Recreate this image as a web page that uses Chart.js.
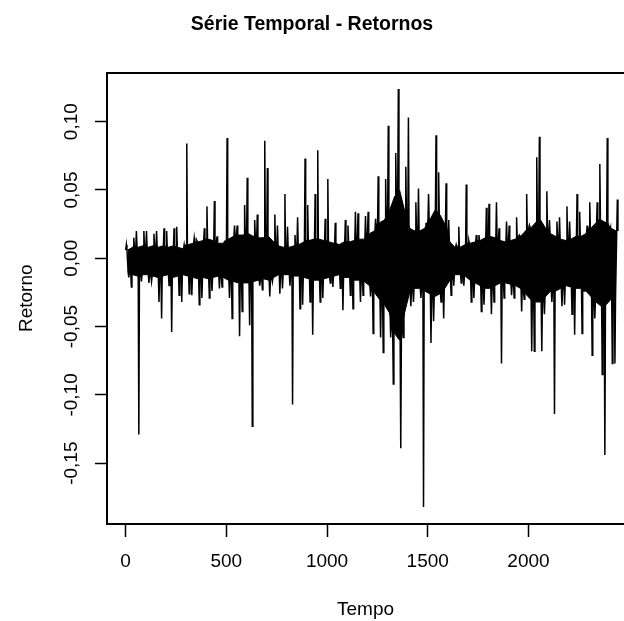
<!DOCTYPE html>
<html lang="pt">
<head>
<meta charset="utf-8">
<title>Série Temporal - Retornos</title>
<script src="https://cdn.jsdelivr.net/npm/chart.js@4.4.1/dist/chart.umd.min.js"></script>
<style>
    html, body { margin: 0; padding: 0; background: #fff; overflow: hidden; }
    canvas { display: block; }
</style>
</head>
<body>
<canvas id="retornosChart" width="624" height="621"></canvas>
<script>
// Série temporal de retornos
// Read off the plot in blocks of 25 observations:
// highest / lowest return of each block, and the dense (solid) band around zero
const blockSize = 25;

const retornoMax = [
    0.010, 0.015, 0.020, 0.020, 0.020, 0.018, 0.020, 0.022, 0.020, 0.022,
    0.023, 0.010, 0.084, 0.015, 0.013, 0.022, 0.038, 0.042, 0.016, 0.012,
    0.088, 0.024, 0.024, 0.039, 0.059, 0.028, 0.032, 0.086, 0.066, 0.032,
    0.024, 0.047, 0.023, 0.017, 0.030, 0.073, 0.039, 0.047, 0.079, 0.029,
    0.058, 0.026, 0.010, 0.028, 0.024, 0.034, 0.033, 0.031, 0.034, 0.029,
    0.060, 0.058, 0.097, 0.077, 0.124, 0.067, 0.103, 0.041, 0.051, 0.026,
    0.047, 0.090, 0.063, 0.055, 0.028, 0.010, 0.023, 0.054, 0.013, 0.017,
    0.017, 0.037, 0.040, 0.041, 0.022, 0.027, 0.024, 0.030, 0.017, 0.047,
    0.024, 0.074, 0.089, 0.049, 0.028, 0.027, 0.030, 0.038, 0.027, 0.047,
    0.034, 0.024, 0.041, 0.041, 0.069, 0.088, 0.020, 0.043
];

const retornoMin = [
    -0.014, -0.021, -0.129, -0.017, -0.018, -0.017, -0.032, -0.044, -0.020, -0.054,
    -0.027, -0.032, -0.026, -0.027, -0.034, -0.029, -0.029, -0.024, -0.022, -0.021,
    -0.029, -0.044, -0.057, -0.039, -0.049, -0.123, -0.020, -0.023, -0.028, -0.017,
    -0.026, -0.022, -0.020, -0.107, -0.037, -0.034, -0.032, -0.056, -0.032, -0.029,
    -0.018, -0.021, -0.022, -0.038, -0.027, -0.037, -0.032, -0.027, -0.028, -0.055,
    -0.058, -0.069, -0.058, -0.092, -0.139, -0.058, -0.035, -0.032, -0.029, -0.182,
    -0.062, -0.046, -0.032, -0.044, -0.027, -0.020, -0.018, -0.020, -0.032, -0.029,
    -0.039, -0.034, -0.041, -0.032, -0.077, -0.029, -0.027, -0.029, -0.039, -0.030,
    -0.068, -0.068, -0.068, -0.041, -0.032, -0.114, -0.035, -0.034, -0.041, -0.056,
    -0.055, -0.021, -0.071, -0.044, -0.085, -0.144, -0.077, -0.077
];

const bandTop = [
    0.006, 0.008, 0.008, 0.009, 0.008, 0.009, 0.008, 0.009, 0.008, 0.009,
    0.008, 0.007, 0.010, 0.011, 0.012, 0.013, 0.014, 0.013, 0.011, 0.011,
    0.014, 0.016, 0.017, 0.017, 0.018, 0.016, 0.015, 0.015, 0.016, 0.012,
    0.009, 0.008, 0.008, 0.009, 0.010, 0.012, 0.013, 0.014, 0.014, 0.013,
    0.012, 0.011, 0.010, 0.012, 0.012, 0.013, 0.014, 0.014, 0.018, 0.020,
    0.026, 0.028, 0.035, 0.045, 0.050, 0.035, 0.022, 0.020, 0.020, 0.022,
    0.028, 0.035, 0.032, 0.025, 0.012, 0.008, 0.008, 0.010, 0.011, 0.012,
    0.013, 0.015, 0.016, 0.015, 0.013, 0.012, 0.013, 0.014, 0.016, 0.020,
    0.022, 0.026, 0.028, 0.022, 0.018, 0.016, 0.014, 0.013, 0.014, 0.016,
    0.016, 0.018, 0.022, 0.026, 0.028, 0.026, 0.022, 0.020
];

const bandBottom = [
    -0.010, -0.012, -0.013, -0.012, -0.012, -0.013, -0.014, -0.013, -0.012, -0.014,
    -0.013, -0.012, -0.013, -0.014, -0.015, -0.014, -0.015, -0.014, -0.013, -0.014,
    -0.016, -0.017, -0.018, -0.018, -0.018, -0.017, -0.016, -0.015, -0.016, -0.014,
    -0.012, -0.012, -0.012, -0.013, -0.013, -0.014, -0.015, -0.016, -0.016, -0.015,
    -0.014, -0.013, -0.012, -0.014, -0.014, -0.016, -0.016, -0.017, -0.020, -0.025,
    -0.030, -0.034, -0.040, -0.055, -0.060, -0.040, -0.025, -0.022, -0.022, -0.024,
    -0.026, -0.028, -0.026, -0.022, -0.016, -0.012, -0.012, -0.013, -0.016, -0.018,
    -0.020, -0.022, -0.022, -0.020, -0.018, -0.018, -0.019, -0.020, -0.022, -0.026,
    -0.030, -0.032, -0.032, -0.028, -0.024, -0.024, -0.022, -0.020, -0.021, -0.022,
    -0.022, -0.024, -0.028, -0.032, -0.035, -0.034, -0.030, -0.028
];

// Axis ticks
const xTicks = [0, 500, 1000, 1500, 2000];
const xTickLabels = ['0', '500', '1000', '1500', '2000'];
const yTicks = [-0.15, -0.10, -0.05, 0, 0.05, 0.10];
const yTickLabels = ['-0,15', '-0,10', '-0,05', '0,00', '0,05', '0,10'];

// Axis limits (R style, box cut at the right edge)
const xMin = -92;
const xMax = 2474;
const yMin = -0.1945;
const yMax = 0.136;

const fontFamily = '"Liberation Sans", Arial, Helvetica, sans-serif';

document.addEventListener('DOMContentLoaded', () => {
    initializeChart();
});

// Line: from the band out to the block maximum and minimum and back
// (order swapped on odd blocks so the spikes are not evenly spaced)
function buildSeries() {
    const points = [];
    retornoMax.forEach((hi, i) => {
        const t = i * blockSize;
        const up = [bandTop[i], hi, bandTop[i]];
        const down = [bandBottom[i], retornoMin[i], bandBottom[i]];
        const order = i % 2 === 0 ? up.concat(down) : down.concat(up);
        const offsets = [1, 4, 7, 13, 16, 19];
        order.forEach((y, k) => points.push({ x: t + offsets[k], y: y }));
    });
    return points;
}

function buildBand(values) {
    return values.map((v, i) => ({ x: i * blockSize + 10, y: v }));
}

function initializeChart() {
    const ctx = document.getElementById('retornosChart').getContext('2d');

    new Chart(ctx, {
        type: 'line',
        data: {
            datasets: [
                {
                    // dense band, filled down to the next dataset
                    data: buildBand(bandTop),
                    borderColor: '#000',
                    backgroundColor: '#000',
                    borderWidth: 1,
                    pointRadius: 0,
                    fill: '+1'
                },
                {
                    data: buildBand(bandBottom),
                    borderColor: '#000',
                    borderWidth: 1,
                    pointRadius: 0,
                    fill: false
                },
                {
                    data: buildSeries(),
                    borderColor: '#000',
                    borderWidth: 1.5,
                    pointRadius: 0,
                    tension: 0,
                    fill: false
                }
            ]
        },
        options: {
            responsive: false,
            animation: false,
            devicePixelRatio: 1,
            layout: { padding: 0 },
            plugins: {
                legend: { display: false },
                tooltip: { enabled: false },
                title: {
                    display: true,
                    text: 'Série Temporal - Retornos',
                    color: '#000',
                    font: { family: fontFamily, size: 19.5, weight: 'bold' },
                    padding: { top: 12.8, bottom: 0 }
                }
            },
            scales: {
                x: {
                    type: 'linear',
                    position: 'bottom',
                    min: xMin,
                    max: xMax,
                    afterBuildTicks: scale => { scale.ticks = xTicks.map(v => ({ value: v })); },
                    afterFit: scale => { scale.height = 97; },
                    ticks: {
                        autoSkip: false,
                        maxRotation: 0,
                        padding: 13.3,
                        color: '#000',
                        font: { family: fontFamily, size: 19 },
                        callback: (value, index) => xTickLabels[index]
                    },
                    grid: { drawOnChartArea: false, tickLength: 13, tickColor: '#000', tickWidth: 1.5 },
                    border: { display: true, color: '#000', width: 2 },
                    title: {
                        display: true,
                        text: 'Tempo',
                        color: '#000',
                        font: { family: fontFamily, size: 19 },
                        padding: { top: 0, bottom: 0 }
                    }
                },
                xTop: {
                    type: 'linear',
                    position: 'top',
                    min: xMin,
                    max: xMax,
                    afterFit: scale => { scale.height = 36.3; },
                    ticks: { display: false },
                    grid: { display: false },
                    border: { display: true, color: '#000', width: 2 }
                },
                y: {
                    type: 'linear',
                    position: 'left',
                    min: yMin,
                    max: yMax,
                    afterBuildTicks: scale => { scale.ticks = yTicks.map(v => ({ value: v })); },
                    afterFit: scale => { scale.width = 107; },
                    ticks: {
                        autoSkip: false,
                        minRotation: 90,
                        maxRotation: 90,
                        crossAlign: 'center',
                        padding: 1.8,
                        color: '#000',
                        font: { family: fontFamily, size: 19 },
                        callback: (value, index) => yTickLabels[index]
                    },
                    grid: { drawOnChartArea: false, tickLength: 12, tickColor: '#000', tickWidth: 1.5 },
                    border: { display: true, color: '#000', width: 2 },
                    title: {
                        display: true,
                        text: 'Retorno',
                        color: '#000',
                        font: { family: fontFamily, size: 19 },
                        padding: { top: 15.6, bottom: 0 }
                    }
                }
            }
        }
    });
}
</script>
</body>
</html>
